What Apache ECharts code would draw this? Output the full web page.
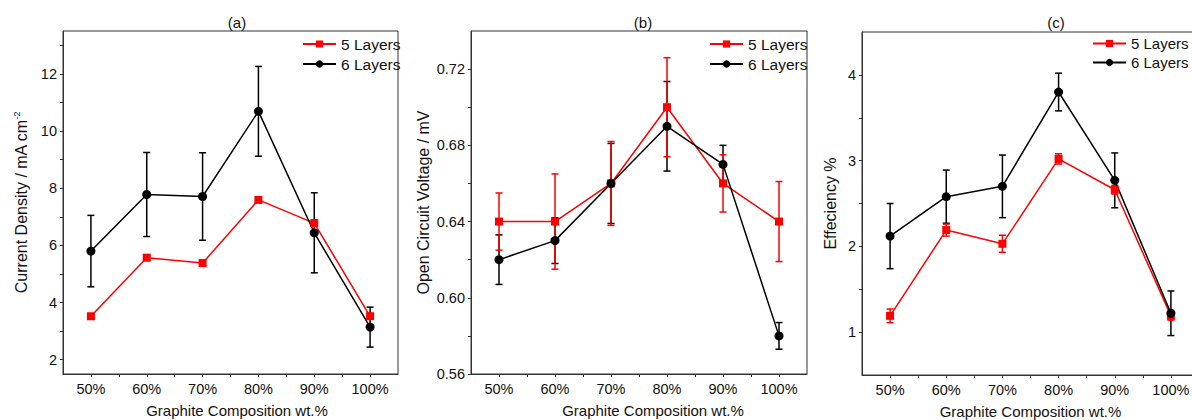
<!DOCTYPE html>
<html>
<head>
<meta charset="utf-8">
<script src="https://cdn.jsdelivr.net/npm/echarts@6/dist/echarts.min.js"></script>
<style>
  html, body { margin: 0; padding: 0; background: #fff; }
  #main { width: 1192px; height: 420px; }
</style>
</head>
<body>
<div id="main"></div>
<script>
// graphite content of the electrode, wt.%
var compositions = [50, 60, 70, 80, 90, 100];
var seriesNames = ['5 Layers', '6 Layers'];

// (a) current density, mA cm-2
var density5 = [3.52, 5.57, 5.38, 7.59, 6.78, 3.52];
var density5Err = [0.08, 0.1, 0.1, 0.08, 0.1, 0.1];
var density6 = [5.80, 7.78, 7.71, 10.69, 6.44, 3.14];
var density6Err = [1.25, 1.47, 1.53, 1.57, 1.40, 0.70];

// (b) open circuit voltage, mV
var voltage5 = [0.64, 0.64, 0.66, 0.70, 0.66, 0.64];
var voltage5Err = [0.015, 0.025, 0.022, 0.026, 0.015, 0.021];
var voltage6 = [0.62, 0.63, 0.66, 0.69, 0.67, 0.58];
var voltage6Err = [0.013, 0.012, 0.021, 0.0235, 0.01, 0.007];

// (c) efficiency, %
var eff5 = [1.19, 2.19, 2.03, 3.02, 2.66, 1.19];
var eff5Err = [0.08, 0.07, 0.10, 0.06, 0.05, 0.05];
var eff6 = [2.12, 2.58, 2.70, 3.80, 2.77, 1.22];
var eff6Err = [0.38, 0.31, 0.365, 0.22, 0.32, 0.26];

var FONT = '"Liberation Sans", Arial, sans-serif';
var RED = '#ff0000';
var BLACK = '#000000';
var TXT = '#111';

var chart = echarts.init(document.getElementById('main'), null, { renderer: 'svg' });

function pairs(ys) {
  return compositions.map(function (x, i) { return [x, ys[i]]; });
}
function errPairs(ys, errs) {
  return compositions.map(function (x, i) { return [x, ys[i] - errs[i], ys[i] + errs[i]]; });
}

function renderErr(params, api) {
  var x = api.value(0);
  var lo = api.coord([x, api.value(1)]);
  var hi = api.coord([x, api.value(2)]);
  var w = 3.5;
  var style = { stroke: api.visual('color'), lineWidth: 1.5 };
  return {
    type: 'group',
    children: [
      { type: 'line', shape: { x1: hi[0], y1: hi[1], x2: lo[0], y2: lo[1] }, style: style },
      { type: 'line', shape: { x1: hi[0] - w, y1: hi[1], x2: hi[0] + w, y2: hi[1] }, style: style },
      { type: 'line', shape: { x1: lo[0] - w, y1: lo[1], x2: lo[0] + w, y2: lo[1] }, style: style }
    ]
  };
}

var axisLineStyle = { color: '#333', width: 1 };
var labelStyle = { color: TXT, fontSize: 14.5, fontFamily: FONT };

function xAxisFor(idx, padLeft) {
  return {
    type: 'value', gridIndex: idx, min: 45, max: 105,
    name: 'Graphite Composition wt.%', nameLocation: 'middle', nameGap: 29,
    nameTextStyle: { color: TXT, fontSize: 15, fontFamily: FONT, padding: [0, 0, 0, padLeft] },
    axisLine: { lineStyle: axisLineStyle },
    axisTick: { length: 3, lineStyle: axisLineStyle, customValues: [50, 55, 60, 65, 70, 75, 80, 85, 90, 95, 100] },
    axisLabel: Object.assign({ margin: 7, customValues: compositions, formatter: '{value}%' }, labelStyle),
    splitLine: { show: false }
  };
}

function yAxisFor(idx, min, max, labels, ticks, name, gap, fmt) {
  return {
    type: 'value', gridIndex: idx, min: min, max: max,
    name: name, nameLocation: 'middle', nameGap: gap,
    nameTextStyle: {
      color: TXT, fontSize: 16, fontFamily: FONT,
      rich: { sup: { fontSize: 9, fontFamily: FONT, color: TXT, padding: [0, 0, 10, 0] } }
    },
    axisLine: { lineStyle: axisLineStyle },
    axisTick: { length: 3, lineStyle: axisLineStyle, customValues: ticks },
    axisLabel: Object.assign({ margin: 6, customValues: labels, formatter: fmt }, labelStyle),
    splitLine: { show: false }
  };
}

function lineSeries(idx, name, ys, color, symbol) {
  return {
    type: 'line', name: name, xAxisIndex: idx, yAxisIndex: idx,
    data: pairs(ys), symbol: symbol, symbolSize: symbol === 'rect' ? 8 : 9,
    lineStyle: { color: color, width: 1.5 }, itemStyle: { color: color },
    emphasis: { disabled: true }, z: 3
  };
}
function errSeries(idx, ys, errs, color) {
  return {
    type: 'custom', xAxisIndex: idx, yAxisIndex: idx,
    data: errPairs(ys, errs), renderItem: renderErr,
    itemStyle: { color: color }, z: 2, silent: true
  };
}

function legendAt(left, size) {
  return {
    data: seriesNames, orient: 'vertical', left: left, top: 36, padding: 0,
    itemWidth: 33, itemHeight: 9, itemGap: 4,
    textStyle: { color: TXT, fontSize: size, fontFamily: FONT },
    selectedMode: false
  };
}

function panelTitle(text, x) {
  return { type: 'text', x: x, y: 22, style: { text: text, fill: TXT, font: '15px ' + FONT, textAlign: 'center', textVerticalAlign: 'middle' } };
}

var gridStyle = { show: true, borderColor: '#333', borderWidth: 1, backgroundColor: 'transparent', outerBoundsMode: 'none' };

var option = {
  animation: false,
  backgroundColor: '#fff',
  grid: [
    Object.assign({ left: 63, right: 794, top: 31, bottom: 46 }, gridStyle),
    Object.assign({ left: 471, right: 385, top: 31, bottom: 46 }, gridStyle),
    Object.assign({ left: 862, right: -7, top: 32, bottom: 45 }, gridStyle)
  ],
  xAxis: [xAxisFor(0, 13), xAxisFor(1, 28), xAxisFor(2, 0)],
  yAxis: [
    yAxisFor(0, 1.5, 13.5, [2, 4, 6, 8, 10, 12], [2, 3, 4, 5, 6, 7, 8, 9, 10, 11, 12, 13],
      'Current Density / mA cm{sup|-2}', 32, '{value}'),
    yAxisFor(1, 0.56, 0.74, [0.56, 0.60, 0.64, 0.68, 0.72], [0.56, 0.58, 0.60, 0.62, 0.64, 0.66, 0.68, 0.70, 0.72],
      'Open Circuit Voltage / mV', 40, function (v) { return v.toFixed(2); }),
    yAxisFor(2, 0.5, 4.5, [1, 2, 3, 4], [1, 1.5, 2, 2.5, 3, 3.5, 4],
      'Effeciency %', 24, '{value}')
  ],
  legend: [legendAt(302, 15.5), legendAt(709, 15.5), legendAt(1092, 15)],
  graphic: [panelTitle('(a)', 237), panelTitle('(b)', 643), panelTitle('(c)', 1056)],
  series: [
    errSeries(0, density6, density6Err, BLACK),
    errSeries(0, density5, density5Err, RED),
    lineSeries(0, '5 Layers', density5, RED, 'rect'),
    lineSeries(0, '6 Layers', density6, BLACK, 'circle'),

    errSeries(1, voltage6, voltage6Err, BLACK),
    errSeries(1, voltage5, voltage5Err, RED),
    lineSeries(1, '5 Layers', voltage5, RED, 'rect'),
    lineSeries(1, '6 Layers', voltage6, BLACK, 'circle'),

    errSeries(2, eff6, eff6Err, BLACK),
    errSeries(2, eff5, eff5Err, RED),
    lineSeries(2, '5 Layers', eff5, RED, 'rect'),
    lineSeries(2, '6 Layers', eff6, BLACK, 'circle')
  ]
};

chart.setOption(option);
</script>
</body>
</html>
